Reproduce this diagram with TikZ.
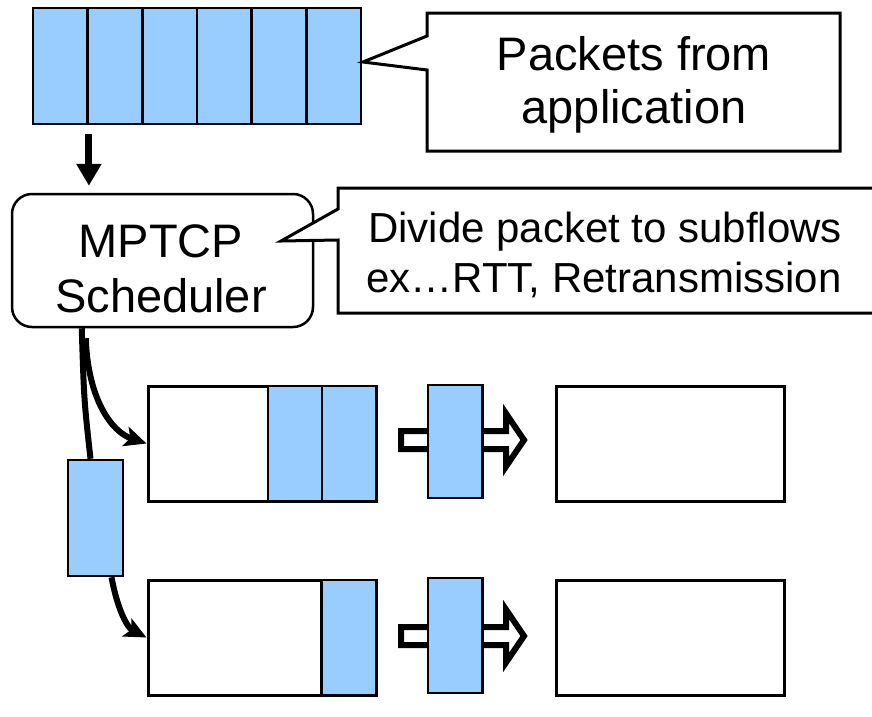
\documentclass[tikz,border=0pt]{standalone}
\usepackage{fontspec}
\setmainfont{Liberation Sans}
\usetikzlibrary{arrows.meta,calc}
\definecolor{pktblue}{HTML}{99CCFF}
\tikzset{
  packet/.style={draw, fill=pktblue, line width=2.5pt, inner sep=0pt,
                 minimum width=54.5pt, minimum height=115pt},
  buffer/.style={draw, fill=white, line width=3pt, inner sep=0pt,
                 minimum width=228pt, minimum height=115pt},
  callout/.style={draw, fill=white, line width=3pt, line join=miter},
  bigtext/.style={font=\fontsize{47}{54}\selectfont, inner sep=0pt, anchor=base},
  midtext/.style={font=\fontsize{42}{50}\selectfont, inner sep=0pt, anchor=base},
  fatarrow/.style={line width=7pt, -{Triangle[length=22pt,width=24pt]}},
  flowarrow/.style={line width=6pt, -{Stealth[length=22pt,width=20pt,inset=5pt]}},
  flowline/.style={line width=6pt},
  hollowarrow/.style={draw, fill=white, line width=6pt, line join=miter, miter limit=10}
}
\begin{document}
\begin{tikzpicture}[x=1pt,y=-1pt]
  \clip (0,0) rectangle (872,716);
  \useasboundingbox (0,0) rectangle (872,716);

  % packets handed down by the application
  \foreach \i in {1,...,6}
    \node[packet, minimum width=54.67pt, minimum height=116pt] (p\i) at ({33+54.67*(\i-0.5)},66) {};

  % callout: packets from application
  \draw[callout] (427,13) -- (840,13) -- (840,151) -- (427,151) -- (427,70)
                 -- (363,62) -- (427,36) -- cycle;
  \node[bigtext] (c1a) at (634,70) {Packets from};
  \node[bigtext] (c1b) at (634,123) {application};

  % scheduler
  \node[draw, line width=2.5pt, rounded corners=20pt, inner sep=0pt,
        minimum width=301pt, minimum height=133pt] (sched) at (162.5,260.5) {};
  \node[bigtext] (s1) at (161,257) {MPTCP};
  \node[bigtext] (s2) at (161,312) {Scheduler};

  \draw[fatarrow, shorten >=7pt] ($(p1.south east)+(0,9)$) -- (p1.south east |- sched.north);

  % callout: scheduler role
  \draw[callout] (338,188) -- (885,188) -- (885,313) -- (338,313) -- (338,240)
                 -- (281,241) -- (338,209) -- cycle;
  \node[midtext] (c2a) at (605,242) {Divide packet to subflows};
  \node[midtext] (c2b) at (604,292) {ex…RTT, Retransmission};

  % subflow send buffers
  \node[buffer] (q1) at (262,443.5) {};
  \node[packet] (q1a) at (295,443.5) {};
  \node[packet] (q1b) at (349,443.5) {};
  \node[buffer] (q2) at (262,637.5) {};
  \node[packet] (q2a) at (348.5,637.5) {};

  % receiving side
  \node[buffer] (r1) at (670.5,443.5) {};
  \node[buffer] (r2) at (670.5,637.5) {};

  % packets in flight
  \foreach \row/\cy in {1/440,2/636} {
    \draw[hollowarrow] (401,\cy-9) -- (506,\cy-9) -- (506,\cy-26.5) -- (524,\cy)
                       -- (506,\cy+26.5) -- (506,\cy+9) -- (401,\cy+9) -- cycle;
  }
  \node[packet, minimum height=113pt] (t1) at (455,441.5) {};
  \node[packet, minimum height=115pt] (t2) at (455,635.5) {};

  % packet being dispatched to the second subflow
  \node[packet, minimum width=55pt, minimum height=116pt] (f) at (95.5,518) {};

  % scheduler outputs
  \coordinate (o1) at ($(sched.south west)+(75,10)$);
  \coordinate (o2) at ($(sched.south west)+(71,0)$);
  \draw[flowarrow] (o1) .. controls (88,400) and (112,432) .. (q1.west);
  \draw[flowline] (o2) .. controls (84,400) .. ($(f.north)+(-5,0)$);
  \draw[flowarrow] ($(f.south)+(16,0)$) .. controls (118,612) and (128,628) .. (q2.west);
\end{tikzpicture}
\end{document}
